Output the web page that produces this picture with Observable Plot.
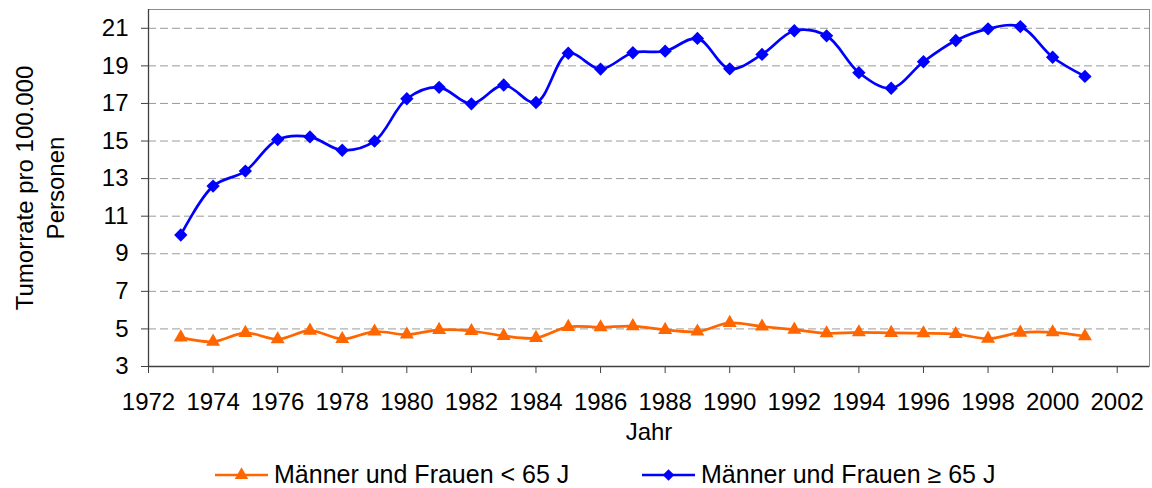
<!DOCTYPE html>
<html><head><meta charset="utf-8">
<script src="https://cdn.jsdelivr.net/npm/d3@7"></script>
<script src="https://cdn.jsdelivr.net/npm/@observablehq/plot@0.6"></script>
<style>
body{margin:0;background:#fff;font-family:"Liberation Sans",Arial,sans-serif;}
#wrap{position:relative;width:1152px;height:488px;}
.leg{position:absolute;top:463px;height:22px;line-height:22px;display:flex;align-items:center;font-size:25px;color:#000;white-space:nowrap;}
.leg svg{display:block;margin-right:6px;}
</style></head><body>
<div id="wrap"><div id="chart"></div><div id="legend"></div></div>
<script>
const years = [1973,1974,1975,1976,1977,1978,1979,1980,1981,1982,1983,1984,1985,1986,1987,1988,1989,1990,1991,1992,1993,1994,1995,1996,1997,1998,1999,2000,2001];
const under65 = [4.55,4.32,4.79,4.45,4.91,4.46,4.86,4.70,4.95,4.89,4.63,4.52,5.11,5.09,5.15,4.95,4.86,5.32,5.13,4.96,4.77,4.82,4.79,4.77,4.73,4.48,4.80,4.82,4.61];
const over65 = [10.0,12.6,13.4,15.08,15.22,14.51,14.99,17.25,17.86,16.98,17.98,17.05,19.67,18.83,19.7,19.78,20.46,18.84,19.61,20.87,20.6,18.64,17.81,19.22,20.35,20.97,21.09,19.46,18.44];
const seriesNames = ["Männer und Frauen < 65 J", "Männer und Frauen ≥ 65 J"];
const seriesColors = ["#FF6600", "#0000FF"];
const xTicks = [1972,1974,1976,1978,1980,1982,1984,1986,1988,1990,1992,1994,1996,1998,2000,2002];
const yTicks = [3,5,7,9,11,13,15,17,19,21];
const gridTicks = [5,7,9,11,13,15,17,19,21];
const xTitle = "Jahr";
const yTitle = "Tumorrate pro 100.000\nPersonen";

const dUnder = years.map((y,i)=>({year:y, value:under65[i]}));
const dOver = years.map((y,i)=>({year:y, value:over65[i]}));
const font = '"Liberation Sans", Arial, sans-serif';

const plot = Plot.plot({
  width: 1152, height: 452,
  marginLeft: 148, marginRight: 3, marginTop: 9, marginBottom: 86,
  style: {fontFamily: font, fontSize: "24px", color: "#000", background: "#fff", overflow: "visible"},
  x: {domain: [1972, 2003], label: null},
  y: {domain: [3, 22], label: null},
  marks: [
    Plot.ruleY(gridTicks, {stroke: "#9a9a9a", strokeDasharray: "8,4", strokeWidth: 1}),
    Plot.frame({stroke: "#8c8c8c"}),
    Plot.ruleX([1972], {stroke: "#404040", strokeWidth: 1.3}),
    Plot.ruleY([3], {stroke: "#404040", strokeWidth: 1.3}),
    Plot.axisX({ticks: xTicks, tickFormat: "d", tickSize: 7, tickPadding: 19, label: null, stroke: "#404040"}),
    Plot.axisY({ticks: yTicks, tickSize: 7, tickPadding: 13, label: null, stroke: "#404040"}),
    Plot.line(dUnder, {x: "year", y: "value", stroke: seriesColors[0], strokeWidth: 2.7, curve: "catmull-rom"}),
    Plot.line(dOver, {x: "year", y: "value", stroke: seriesColors[1], strokeWidth: 2.7, curve: "catmull-rom"}),
    Plot.dot(dUnder, {x: "year", y: "value", symbol: "triangle", r: 5.2, fill: seriesColors[0], stroke: "none"}),
    Plot.dot(dOver, {x: "year", y: "value", symbol: "diamond2", r: 6, fill: seriesColors[1], stroke: "none"}),
    Plot.text([yTitle], {frameAnchor: "left", textAnchor: "middle", lineAnchor: "middle", rotate: -90, dx: -110, lineHeight: 1.29, fontSize: 24, fill: "#000"}),
    Plot.text([xTitle], {frameAnchor: "bottom", textAnchor: "middle", lineAnchor: "middle", dy: 66, fontSize: 24, fill: "#000"})
  ]
});
document.getElementById("chart").appendChild(plot);

const legend = document.getElementById("legend");
const legLeft = [215, 642];
seriesNames.forEach((name, i) => {
  const item = document.createElement("div");
  item.className = "leg";
  item.style.left = legLeft[i] + "px";
  const ns = "http://www.w3.org/2000/svg";
  const svg = document.createElementNS(ns, "svg");
  svg.setAttribute("width", 53); svg.setAttribute("height", 20);
  const line = document.createElementNS(ns, "line");
  line.setAttribute("x1", 0); line.setAttribute("x2", 53);
  line.setAttribute("y1", 11); line.setAttribute("y2", 11);
  line.setAttribute("stroke", seriesColors[i]); line.setAttribute("stroke-width", 2.7);
  svg.appendChild(line);
  const sym = document.createElementNS(ns, "path");
  const s = i === 0 ? d3.symbol(d3.symbolTriangle, Math.PI * 5 * 5) : d3.symbol(d3.symbolDiamond2, Math.PI * 5.2 * 5.2);
  sym.setAttribute("d", s());
  sym.setAttribute("transform", "translate(26.5,11)");
  sym.setAttribute("fill", seriesColors[i]);
  svg.appendChild(sym);
  item.appendChild(svg);
  const t = document.createElement("span");
  t.textContent = name;
  item.appendChild(t);
  legend.appendChild(item);
});
</script>
</body></html>
